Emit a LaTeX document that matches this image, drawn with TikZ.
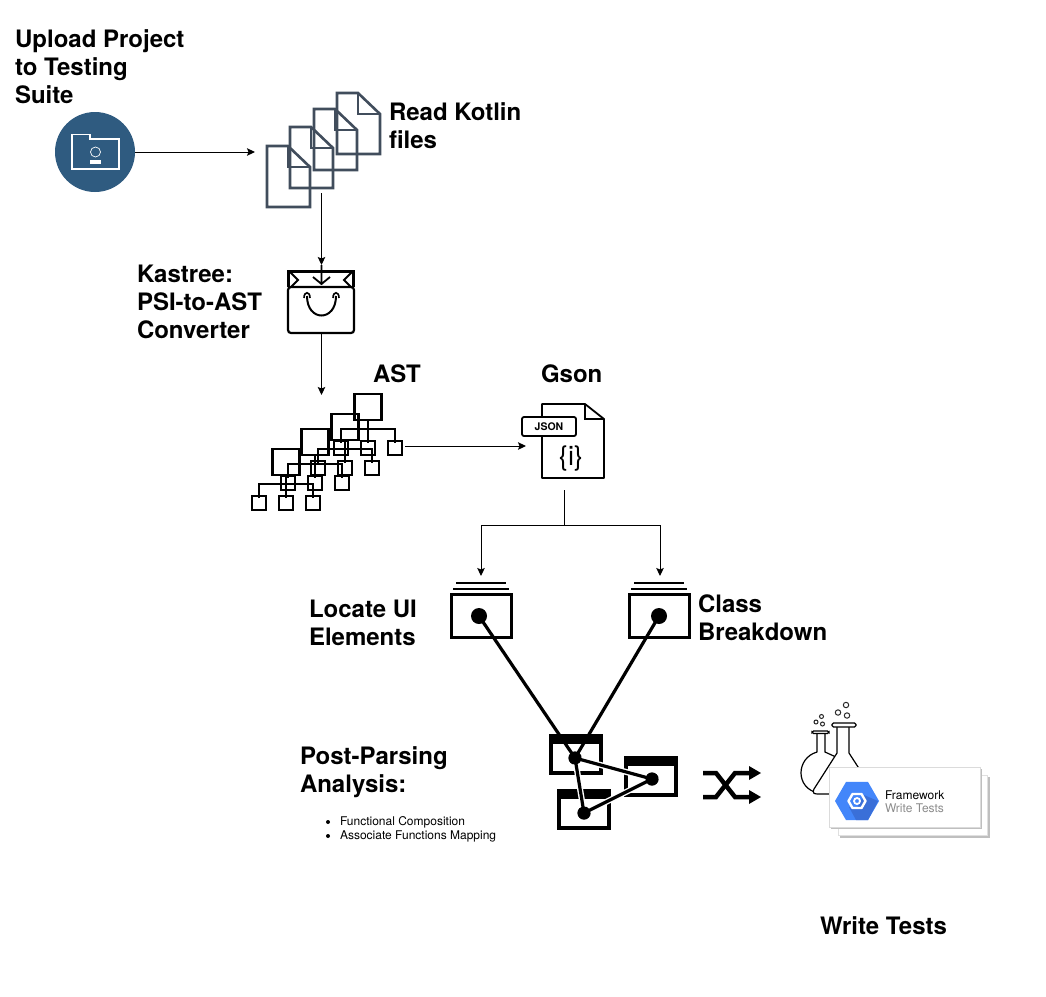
\documentclass[tikz,border=0pt]{standalone}
\usepackage{fontspec}
\setmainfont{TeX Gyre Heros}
\usetikzlibrary{arrows.meta,shapes.geometric,calc}
\definecolor{folderblue}{HTML}{2F5B80}
\definecolor{pageline}{HTML}{414D5C}
\definecolor{gblue}{HTML}{4386FA}
\definecolor{gdark}{HTML}{3A6FD8}
\tikzset{
  x=1pt,y=-1pt,
  conn/.style={draw=black,line width=1pt,-{Stealth[length=8pt,width=7.5pt,inset=1.5pt]}},
  plainconn/.style={draw=black,line width=1pt},
  heavy/.style={draw=black,line width=3.2pt},
  halo/.style={draw=white,line width=6pt},
  port/.style={inner sep=0pt,outer sep=0pt,minimum width=#1},
  title/.style={anchor=north west,inner sep=0pt,outer sep=0pt,align=left,font=\fontsize{24}{28}\selectfont\bfseries},
  small/.style={anchor=west,inner sep=0pt,outer sep=0pt,font=\fontsize{12}{14}\selectfont},
  pagepic/.pic={
    \draw[pageline,line width=2.6pt,line join=miter] (0,0)--(21,0)--(43,21)--(43,61)--(0,61)--cycle;
    \draw[pageline,line width=2.6pt] (21,0)--(21,21)--(43,21);
  },
  branch/.pic={
    \draw[line width=2.5pt] (-13.5,-54)rectangle(13.5,-28);
    \draw[line width=2.5pt] (0,-28)--(0,-5) (-27,-5)--(-27,-19)--(27,-19)--(27,-5);
    \foreach \cx in {-27,0,27}{\draw[line width=2.5pt] (\cx-7,-7)rectangle(\cx+7,7);}
  },
  topcard/.pic={
    \draw[line width=3pt] (0,0)rectangle(60,43);
    \draw[line width=2.8pt] (2,-5)--(58,-5);
    \draw[line width=2.2pt] (5,-11)--(55,-11);
  },
  barcard/.pic={
    \draw[line width=4pt] (2,2)rectangle(52,39);
    \fill[black] (0,0)rectangle(54,10);
  },
  bubble/.style={draw=black!85,line width=1pt},
}
\begin{document}
\begin{tikzpicture}
\useasboundingbox (0,0) rectangle (1046,996);
\fill[white] (0,0) rectangle (1046,996);

% titles
\node[title] (tUpload) at (15,30) {Upload Project\\to Testing\\Suite};
\node[title] (tRead) at (389,103) {Read Kotlin\\files};
\node[title] (tKastree) at (137,265) {Kastree:\\PSI-to-AST\\Converter};
\node[title] (tAST) at (373,365) {AST};
\node[title] (tGson) at (541,365) {Gson};
\node[title] (tLocate) at (309,600) {Locate UI\\Elements};
\node[title] (tClass) at (698,595) {Class\\Breakdown};
\node[title] (tPost) at (300,747) {Post-Parsing\\Analysis:};
\node[title] (tWrite) at (820,917) {Write Tests};
\node[small] (bulA) at (340,822) {Functional Composition};
\node[small] (bulB) at (340,836) {Associate Functions Mapping};
\fill (328,822) circle (2) (328,836) circle (2);

% folder
\node[circle,fill=folderblue,minimum size=80pt,inner sep=0pt,outer sep=0pt] (folder) at (95,152) {};
\draw[white,line width=1.2pt] (72,139)--(72,134.5)--(90,134.5)--(90,139)--(119,139)--(119,169)--(72,169)--cycle;
\draw[white,line width=0.7pt] (95.5,152) circle (5);
\fill[white] (90,160) rectangle (101,164);

% read kotlin pages
\node[port=133pt,minimum height=105pt] (docs) at (321.5,140.5) {};
\foreach \px/\py in {337/93,314/109,290/127,267/146}{
  \pic at (\px,\py) {pagepic};
}

% bag
\node[port=66pt,minimum height=68pt] (bag) at (321.5,299) {};
\draw[line width=2.2pt] (288.5,287)--(288.5,271.5)--(353.5,271.5)--(353.5,287);
\draw[line width=1.8pt] (290,272)--(298,280)--(291,287) (352,272)--(344,280)--(351,287);
\draw[line width=2.2pt,rounded corners=3pt] (288,287)--(354,287)--(354,333)--(288,333)--cycle;
\draw[line width=1.8pt] (321.5,265)--(321.5,284) (313,277)--(321.5,284)--(330,277);
\draw[line width=2pt] (307,296) .. controls (307,322) and (336,322) .. (336,296);
\draw[line width=1.6pt] (304,298) .. controls (304,291) and (310,291) .. (310,298);
\draw[line width=1.6pt] (333,298) .. controls (333,291) and (339,291) .. (339,298);

% tree
\node[port=167pt,minimum height=102pt] (tree) at (321.5,446) {};
\pic at (368,448) {branch};
\pic at (345,468) {branch};
\pic at (315,483) {branch};
\pic at (286,503) {branch};

% json
\node[port=77pt,minimum height=88pt] (json) at (564.5,446) {};
\draw[line width=1.8pt,fill=white,line join=round] (542,404)--(585,404)--(604,419)--(604,478)--(542,478)--cycle;
\draw[line width=1.8pt] (585,404)--(585,419)--(604,419);
\draw[line width=1.8pt,fill=white,rounded corners=2pt] (522,417) rectangle (576,436);
\node[inner sep=0pt,font=\fontsize{10.5}{12}\selectfont\bfseries] (jsonLabel) at (549,427) {JSON};
\node[inner sep=0pt,font=\fontsize{27}{28}\selectfont] (jsonBrace) at (571,459) {\{i\}};

% top cards
\node[port=60pt,minimum height=68pt] (cardL) at (481,610) {};
\node[port=60pt,minimum height=68pt] (cardR) at (660,610) {};
\pic at (451,594) {topcard};
\pic at (629,594) {topcard};

% bottom cards
\pic at (549,734) {barcard};
\pic at (624,756) {barcard};
\pic at (557,789) {barcard};

% dots
\node[circle,fill=black,minimum size=16pt,inner sep=0pt,outer sep=0pt] (dotL) at (479,616) {};
\node[circle,fill=black,minimum size=16pt,inner sep=0pt,outer sep=0pt] (dotR) at (659,616) {};
\node[circle,fill=black,minimum size=13pt,inner sep=0pt,outer sep=0pt] (dotA) at (575,758) {};
\node[circle,fill=black,minimum size=13pt,inner sep=0pt,outer sep=0pt] (dotB) at (652,779) {};
\node[circle,fill=black,minimum size=13pt,inner sep=0pt,outer sep=0pt] (dotC) at (584,813) {};
\draw[halo] (dotA.center)--(dotB.center)--(dotC.center)--cycle;
\draw[heavy] (dotL.center)--(dotA.center);
\draw[heavy] (dotR.center)--(dotA.center);
\draw[heavy] (dotA.center)--(dotB.center);
\draw[heavy] (dotB.center)--(dotC.center);
\draw[heavy] (dotC.center)--(dotA.center);
\fill (dotA) circle (6.5) (dotB) circle (6.5) (dotC) circle (6.5);

% shuffle
\draw[line width=4.5pt] (703,773)--(716,773)--(735,797)--(750,797);
\draw[line width=4.5pt] (703,797)--(716,797)--(735,773)--(750,773);
\fill (749,766)--(761,773)--(749,780)--cycle;
\fill (749,790)--(761,797)--(749,804)--cycle;

% flasks
\draw[line width=1.2pt,line join=round] (817,733)--(817,752) .. controls (796,758) and (795,788) .. (818,793);
\draw[line width=1.2pt] (825,733)--(825,752)--(836,757);
\draw[line width=1.2pt,rounded corners=1.5pt] (812,731)rectangle(829,733.5);
\draw[line width=1.2pt,fill=white,line join=round] (837,726)--(837,753)--(814,789) .. controls (812,793) and (814,794) .. (818,794)--(860,794)--(860,770)--(849,753)--(849,726);
\draw[line width=1.2pt,fill=white,rounded corners=1.5pt] (832,723)rectangle(856,727);
\draw[bubble] (816,722) circle (2);
\draw[bubble] (821.5,716.5) circle (2);
\draw[bubble] (822.5,724) circle (2);
\draw[bubble] (838,712.5) circle (2.7);
\draw[bubble] (846,705) circle (2.7);
\draw[bubble] (847,715.5) circle (2.7);

% framework cards
\fill[black!25] (840,777) rectangle (990,838);
\draw[black!12,fill=white,line width=0.8pt] (838,775) rectangle (987,835);
\fill[black!25] (831,769) rectangle (982,829);
\draw[black!14,fill=white,line width=0.8pt] (829,767) rectangle (980,827);
\node[regular polygon,regular polygon sides=6,shape border rotate=0,fill=gblue,minimum size=44pt,inner sep=0pt,outer sep=0pt] (hex) at (857,801) {};
\fill[gdark] (857,808)--(864,795)--(878,801)--(868,820)--(856,820)--(849,807)--cycle;
\draw[white,line width=2.4pt,line join=round] (848.5,801)--(852.5,794)--(861.5,794)--(865.5,801)--(861.5,808)--(852.5,808)--cycle;
\draw[white,line width=1.8pt] (857,801) circle (3);
\node[small,font=\fontsize{12}{14}\selectfont] (fwA) at (885,795) {Framework};
\node[small,font=\fontsize{12}{14}\selectfont,text=black!45] (fwB) at (885,808.5) {Write Tests};

% connectors
\coordinate (split) at (564.5,525);
\draw[conn] (folder.east) -- (folder.east -| docs.west);
\draw[conn] (docs.south) -- (docs.south |- bag.north);
\draw[conn] (bag.south) -- (tree.north);
\draw[conn] (tree.east) -- (json.west);
\draw[plainconn] (json.south) -- (split);
\draw[conn] (split) -| (cardL.north);
\draw[conn] (split) -| (cardR.north);
\end{tikzpicture}
\end{document}
